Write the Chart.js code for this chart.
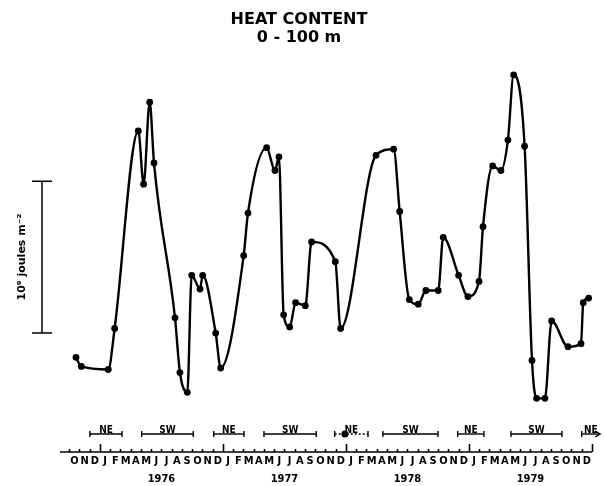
<!DOCTYPE html>
<html>
<head>
<meta charset="utf-8">
<script src="https://cdn.jsdelivr.net/npm/chart.js@4"></script>
<style>
  html, body { margin: 0; padding: 0; background: #fff; }
  canvas { display: block; }
</style>
</head>
<body>
<canvas id="heatChart" width="604" height="486"></canvas>
<script>
// Heat content 0-100 m, 1975-1979

// ---- DATA ----
// time of each observation, in months since 1 Jan 1976
const monthPos = [-2.34, -1.82, 0.81, 1.43, 3.74, 4.26, 4.85, 5.27, 7.32, 7.80,
  8.52, 8.95, 9.76, 10.02, 11.29, 11.78, 14.02, 14.44, 16.26, 17.07,
  17.46, 17.92, 18.51, 19.09, 20.03, 20.65, 22.96, 23.48, 26.93, 28.65,
  29.24, 30.18, 31.05, 31.80, 33.00, 33.49, 34.99, 35.90, 36.98, 37.37,
  38.31, 39.12, 39.80, 40.36, 41.43, 42.15, 42.60, 43.41, 44.07, 45.66,
  46.93, 47.15, 47.68];
// heat content, 10^9 joules m^-2 (relative, the figure only gives a scale bar)
const heat = [-0.16, -0.22, -0.24, 0.03, 1.33, 0.98, 1.52, 1.12, 0.10, -0.26,
  -0.39, 0.38, 0.29, 0.38, 0.00, -0.23, 0.51, 0.79, 1.22, 1.07,
  1.16, 0.12, 0.04, 0.20, 0.18, 0.60, 0.47, 0.03, 1.17, 1.21,
  0.80, 0.22, 0.19, 0.28, 0.28, 0.63, 0.38, 0.24, 0.34, 0.70,
  1.10, 1.07, 1.27, 1.70, 1.23, -0.18, -0.43, -0.43, 0.08, -0.09,
  -0.07, 0.20, 0.23];

// monsoon periods (months since 1 Jan 1976)
const monsoonLabels = ["NE", "SW", "NE", "SW", "NE", "SW", "NE", "SW", "NE"];
const monsoonStart = [-0.98, 4.07, 11.1, 16.0, 22.9, 27.6, 34.9, 40.1, 47.0];
const monsoonEnd = [2.15, 9.1, 14.05, 21.1, 26.15, 32.98, 37.46, 45.07, 48.8];

// tick labels
const monthInitials = ["J", "F", "M", "A", "M", "J", "J", "A", "S", "O", "N", "D"];
const tickLabels = ["O", "N", "D"].concat(monthInitials, monthInitials, monthInitials, monthInitials);
const years = ["1976", "1977", "1978", "1979"];

const FONT = '"DejaVu Sans Condensed", "DejaVu Sans", sans-serif';

// axis ticks, year labels, monsoon bars and the scale bar
const decor = {
  id: "decor",
  afterDraw(chart) {
    const { ctx, chartArea: a, scales: { x, y } } = chart;
    const base = a.bottom;
    ctx.save();
    ctx.strokeStyle = "#000";
    ctx.fillStyle = "#000";

    // time axis with month ticks pointing up
    ctx.lineWidth = 1.6;
    ctx.beginPath();
    ctx.moveTo(a.left, base);
    ctx.lineTo(x.getPixelForValue(48), base);
    for (let m = -3; m <= 48; m++) {
      const px = Math.round(x.getPixelForValue(m)) + 0.5;
      const h = (m % 12 === 0) ? 8 : 3;
      ctx.moveTo(px, base);
      ctx.lineTo(px, base - h);
    }
    ctx.stroke();

    ctx.textAlign = "center";
    ctx.textBaseline = "middle";
    ctx.font = "bold 11px " + FONT;
    years.forEach((yr, i) => ctx.fillText(yr, x.getPixelForValue(i * 12 + 6), base + 27));

    // monsoon bars
    const barY = base - 18;
    ctx.lineWidth = 1.4;
    ctx.font = "bold 10px " + FONT;
    ctx.textBaseline = "bottom";
    monsoonLabels.forEach((lab, i) => {
      const x0 = x.getPixelForValue(monsoonStart[i]);
      const x1 = x.getPixelForValue(monsoonEnd[i]);
      ctx.setLineDash(i === 4 ? [2, 2] : []);
      ctx.beginPath();
      ctx.moveTo(x0, barY);
      ctx.lineTo(x1, barY);
      ctx.stroke();
      ctx.setLineDash([]);
      ctx.beginPath();
      ctx.moveTo(x0, barY - 3);
      ctx.lineTo(x0, barY + 3);
      if (i === monsoonLabels.length - 1) {
        // last period runs on past the end of the record
        ctx.moveTo(x1 - 5, barY - 3);
        ctx.lineTo(x1, barY);
        ctx.lineTo(x1 - 5, barY + 3);
      } else {
        ctx.moveTo(x1, barY - 3);
        ctx.lineTo(x1, barY + 3);
      }
      ctx.stroke();
      ctx.fillText(lab, (x0 + x1) / 2, barY + 1);
    });
    // blot on the 1977/78 NE bar
    ctx.beginPath();
    ctx.arc(x.getPixelForValue(23.9), barY, 3.5, 0, Math.PI * 2);
    ctx.fill();

    // scale bar = 1 x 10^9 joules m^-2
    const top = y.getPixelForValue(1);
    const bot = y.getPixelForValue(0);
    const bx = a.left - 18;
    ctx.lineWidth = 1.5;
    ctx.beginPath();
    ctx.moveTo(bx, top);
    ctx.lineTo(bx, bot);
    ctx.moveTo(bx - 10, top);
    ctx.lineTo(bx + 10, top);
    ctx.moveTo(bx - 10, bot);
    ctx.lineTo(bx + 10, bot);
    ctx.stroke();

    ctx.translate(a.left - 38, (top + bot) / 2);
    ctx.rotate(-Math.PI / 2);
    ctx.textBaseline = "middle";
    ctx.font = 'bold 11px "DejaVu Sans", sans-serif';
    ctx.fillText("10\u2079 joules m\u207B\u00B2", 0, 0);
    ctx.restore();
  }
};

new Chart(document.getElementById("heatChart"), {
  type: "line",
  data: {
    datasets: [{
      data: monthPos.map((m, i) => ({ x: m, y: heat[i] })),
      borderColor: "#000",
      borderWidth: 2.4,
      backgroundColor: "#000",
      pointBackgroundColor: "#000",
      pointBorderColor: "#000",
      pointRadius: 3.4,
      pointBorderWidth: 0,
      cubicInterpolationMode: "monotone",
      fill: false
    }]
  },
  options: {
    responsive: false,
    animation: false,
    layout: { padding: { right: 6 } },
    plugins: {
      legend: { display: false },
      tooltip: { enabled: false },
      title: {
        display: true,
        text: ["HEAT CONTENT", "0 - 100 m"],
        color: "#000",
        font: { family: '"DejaVu Sans", sans-serif', size: 16, weight: "bold", lineHeight: 1.1 },
        padding: { top: 11, bottom: 14 }
      }
    },
    scales: {
      x: {
        type: "linear",
        min: -3.9,
        max: 48.59,
        grid: { display: false, drawTicks: false },
        border: { display: false },
        afterBuildTicks(scale) {
          scale.ticks = tickLabels.map((_, i) => ({ value: i - 2.5 }));
        },
        afterFit(scale) { scale.height = 34; },
        ticks: {
          autoSkip: false,
          maxRotation: 0,
          padding: 3,
          color: "#000",
          font: { family: FONT, size: 11, weight: "bold" },
          callback: (value, index) => tickLabels[index]
        }
      },
      y: {
        min: -0.783,
        max: 1.796,
        grid: { display: false },
        border: { display: false },
        ticks: { display: false },
        afterFit(scale) { scale.width = 60; }
      }
    }
  },
  plugins: [decor]
});
</script>
</body>
</html>
